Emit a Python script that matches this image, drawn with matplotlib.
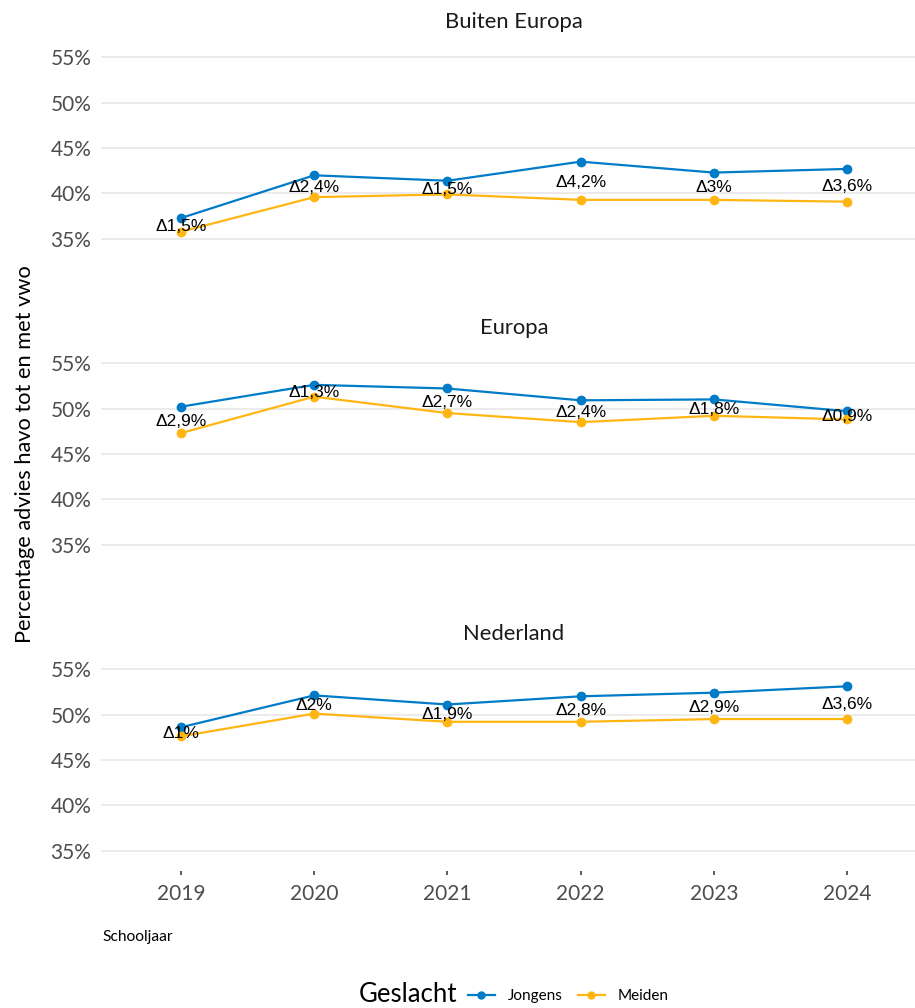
import matplotlib
matplotlib.use("Agg")
import matplotlib.pyplot as plt
from matplotlib.lines import Line2D

years = [2019, 2020, 2021, 2022, 2023, 2024]
panels = ["Buiten Europa", "Europa", "Nederland"]
jongens_buiten = [37.3, 42.0, 41.4, 43.5, 42.3, 42.7]
meiden_buiten = [35.8, 39.6, 39.9, 39.3, 39.3, 39.1]
delta_buiten = ["1,5", "2,4", "1,5", "4,2", "3", "3,6"]
jongens_europa = [50.2, 52.6, 52.2, 50.9, 51.0, 49.7]
meiden_europa = [47.3, 51.3, 49.5, 48.5, 49.2, 48.8]
delta_europa = ["2,9", "1,3", "2,7", "2,4", "1,8", "0,9"]
jongens_nl = [48.6, 52.1, 51.1, 52.0, 52.4, 53.1]
meiden_nl = [47.6, 50.1, 49.2, 49.2, 49.5, 49.5]
delta_nl = ["1", "2", "1,9", "2,8", "2,9", "3,6"]
y_ticks = [35, 40, 45, 50, 55]

series = [
    (jongens_buiten, meiden_buiten, delta_buiten),
    (jongens_europa, meiden_europa, delta_europa),
    (jongens_nl, meiden_nl, delta_nl),
]

BLUE = "#007BC7"
YELLOW = "#FFB612"
FONT = ["Lato", "DejaVu Sans"]
W, H = 915, 1008

fig = plt.figure(figsize=(W / 100, H / 100), dpi=100)

left_px, right_px = 101, 927
tops = [37, 343, 649]
ph = 222

for i, (name, (jon, mei, dl)) in enumerate(zip(panels, series)):
    top = tops[i]
    ax = fig.add_axes([left_px / W, 1 - (top + ph) / H, (right_px - left_px) / W, ph / H])
    ax.plot(years, jon, color=BLUE, lw=1.6, marker="o", ms=6, zorder=3)
    ax.plot(years, mei, color=YELLOW, lw=1.6, marker="o", ms=6, zorder=3)
    for x, a, b, d in zip(years, jon, mei, dl):
        ax.text(x, (a + b) / 2, "\u0394" + d + "%", ha="center", va="center_baseline",
                fontsize=12.5, family=["Liberation Sans", "DejaVu Sans"], color="black", zorder=4)
    ax.set_xlim(2018.4, 2024.6)
    ax.set_ylim(32.8, 57.2)
    ax.set_yticks(y_ticks)
    ax.set_yticklabels([f"{t}%" for t in y_ticks], family=FONT)
    ax.yaxis.grid(True, color="#EBEBEB", lw=1.4)
    ax.set_axisbelow(True)
    for s in ax.spines.values():
        s.set_visible(False)
    ax.tick_params(axis="y", length=0, labelsize=15, labelcolor="#4d4d4d", pad=7)
    ax.set_xticks(years)
    if i == 2:
        ax.set_xticklabels([str(y) for y in years], family=FONT)
        ax.tick_params(axis="x", length=3, width=1.1, color="#333333",
                       labelsize=15, labelcolor="#4d4d4d", pad=6)
    else:
        ax.tick_params(axis="x", length=0, labelbottom=False)
    fig.text(514 / W, 1 - (top - 15) / H, name, ha="center", va="center",
             fontsize=15.8, family=FONT, color="#1a1a1a")

fig.text(25 / W, 1 - 454 / H, "Percentage advies havo tot en met vwo", rotation=90,
         ha="center", va="center", fontsize=15.7, family=FONT, color="black")
fig.text(102 / W, 1 - 937 / H, "Schooljaar", ha="left", va="center",
         fontsize=11.2, family=FONT, color="black")

fig.text(359 / W, 1 - 995 / H, "Geslacht", ha="left", va="center",
         fontsize=18.5, family=FONT, color="black")
handles = [Line2D([0], [0], color=BLUE, lw=1.6, marker="o", ms=5),
           Line2D([0], [0], color=YELLOW, lw=1.6, marker="o", ms=5)]
fig.legend(handles, ["Jongens", "Meiden"], loc="center left",
           bbox_to_anchor=(468 / W, 1 - 996 / H), ncol=2, frameon=False,
           prop={"family": FONT, "size": 11}, handlelength=1.75,
           handletextpad=0.85, columnspacing=1.0, borderpad=0,
           borderaxespad=0)

fig.savefig("out.png", dpi=100)
